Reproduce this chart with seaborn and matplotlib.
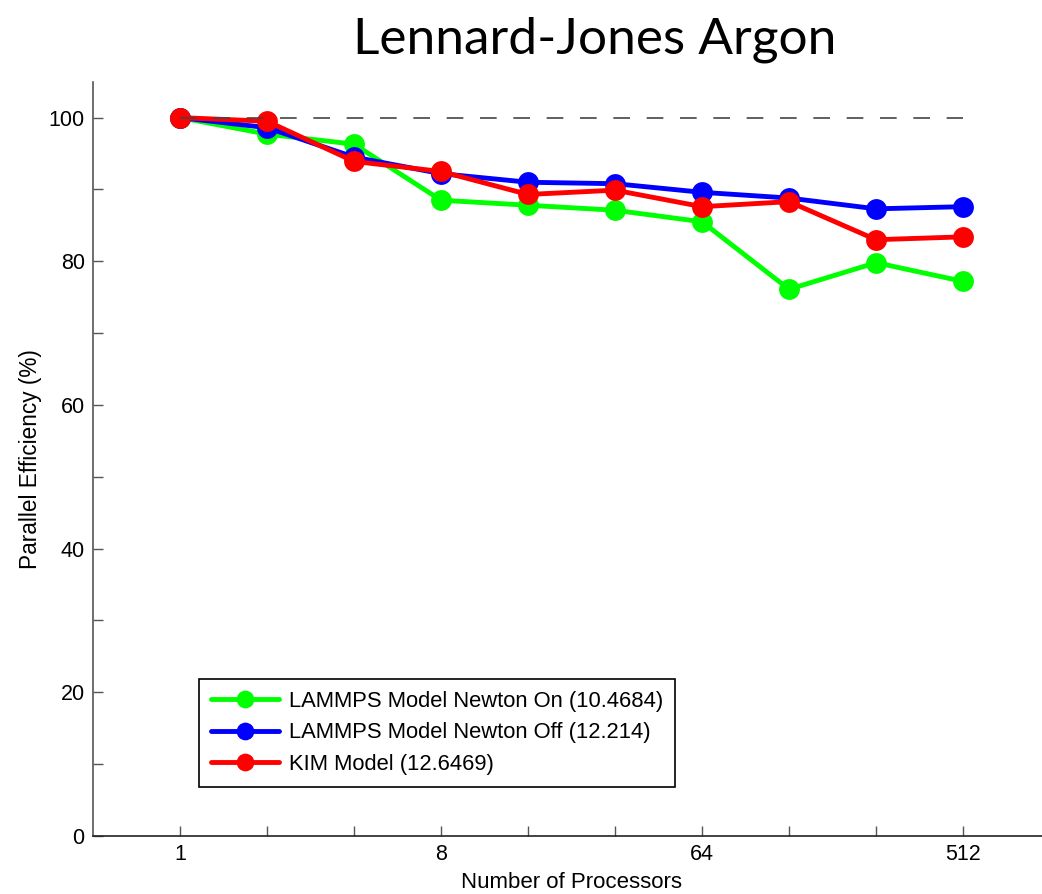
import matplotlib
matplotlib.use("Agg")
import matplotlib.pyplot as plt
import matplotlib.ticker as mticker
import seaborn as sns
import pandas as pd

processors = [1, 2, 4, 8, 16, 32, 64, 128, 256, 512]
newton_on = [100.0, 97.7, 96.3, 88.5, 87.8, 87.1, 85.5, 76.1, 79.8, 77.2]
newton_off = [100.0, 98.6, 94.5, 92.2, 91.0, 90.8, 89.6, 88.8, 87.3, 87.6]
kim_model = [100.0, 99.5, 93.9, 92.5, 89.3, 89.9, 87.6, 88.3, 83.0, 83.4]
labels = ["LAMMPS Model Newton On (10.4684)",
          "LAMMPS Model Newton Off (12.214)",
          "KIM Model (12.6469)"]
colors = ["#00ff00", "#0000ff", "#ff0000"]
major_ticks = [1, 8, 64, 512]
y_ticks = [0, 20, 40, 60, 80, 100]

rows = []
for lab, vals in zip(labels, [newton_on, newton_off, kim_model]):
    for p, v in zip(processors, vals):
        rows.append({"Processors": p, "Efficiency": v, "Model": lab})
df = pd.DataFrame(rows)

sns.set_theme(style="white")
plt.rcParams["font.family"] = ["Liberation Sans", "DejaVu Sans"]

fig = plt.figure(figsize=(10.42, 8.94), dpi=100)
ax = fig.add_axes([0.0893, 0.0651, 0.9184, 0.8435])

sns.lineplot(data=df, x="Processors", y="Efficiency", hue="Model",
             hue_order=labels, palette=colors, marker="o", markersize=15,
             markeredgewidth=0, linewidth=3.5, ax=ax, legend=True, zorder=3)

ax.plot([processors[0], processors[-1]], [100, 100], linestyle=(0, (10, 10)),
        color="#444444", linewidth=1.2, zorder=5)

ax.set_xscale("log", base=2)
ax.set_xlim(0.5, 1024)
ax.set_ylim(0, 105)
ax.xaxis.set_major_locator(mticker.FixedLocator(major_ticks))
ax.xaxis.set_major_formatter(mticker.FixedFormatter([str(t) for t in major_ticks]))
ax.xaxis.set_minor_locator(mticker.FixedLocator([2, 4, 16, 32, 128, 256]))
ax.xaxis.set_minor_formatter(mticker.NullFormatter())
ax.set_yticks(y_ticks)
ax.yaxis.set_minor_locator(mticker.MultipleLocator(10))

for s in ["top", "right"]:
    ax.spines[s].set_visible(False)
ax.spines["left"].set_color("#555555")
ax.spines["bottom"].set_color("#222222")
for s in ["left", "bottom"]:
    ax.spines[s].set_linewidth(1.2)

ax.tick_params(axis="both", which="both", direction="in", length=7,
               width=1.0, color="#555555", labelsize=15.5, pad=6,
               labelcolor="black", bottom=True, left=True)

ax.set_xlabel("Number of Processors", fontsize=16, labelpad=5, color="black")
ax.set_ylabel("Parallel Efficiency (%)", fontsize=16.3, labelpad=5, color="black")

handles, labs = ax.get_legend_handles_labels()
leg = ax.legend(handles, labs, loc="lower left", bbox_to_anchor=(0.1108, 0.0647),
                borderaxespad=0, fontsize=15.8, frameon=True, fancybox=False,
                framealpha=1, edgecolor="black", handlelength=3.1, borderpad=0.55,
                labelspacing=0.48, handletextpad=0.45, markerscale=0.85)
leg.get_frame().set_linewidth(1.2)
for t in leg.get_texts():
    t.set_color("black")

fig.text(0.571, 0.955, "Lennard-Jones Argon", ha="center", va="center",
         fontsize=37, color="black", family=["Lato", "DejaVu Sans"])

fig.savefig("out.png", dpi=100)
